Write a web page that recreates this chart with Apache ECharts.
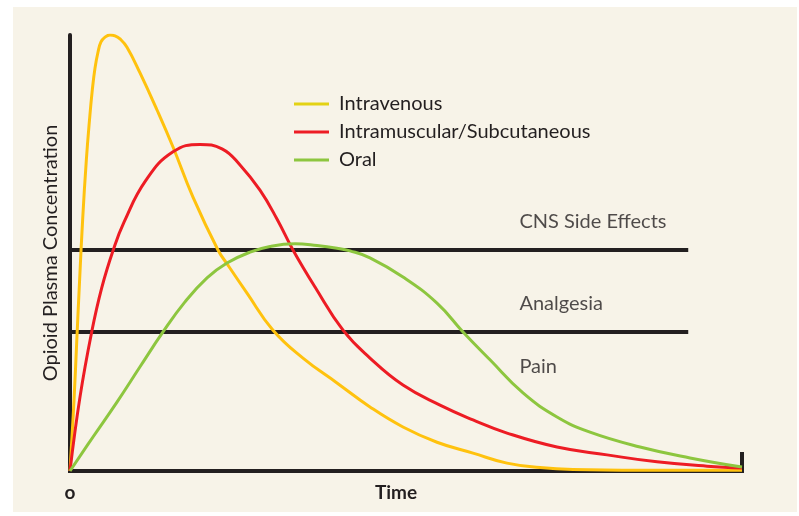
<!DOCTYPE html>
<html>
<head>
<meta charset="utf-8">
<script src="https://cdn.jsdelivr.net/npm/echarts@6/dist/echarts.min.js"></script>
<style>
  html, body { margin: 0; padding: 0; background: #ffffff; }
  #main { width: 799px; height: 516px; }
</style>
</head>
<body>
<div id="main"></div>
<script>
// time axis runs 0..100, concentration 0..100
var ivTime = [0, 0.6, 1.01, 1.43, 1.88, 2.43, 2.9, 3.32, 3.72, 4.17, 4.61, 5.21, 5.95, 6.7, 7.44, 8.48, 10.42, 12.95, 15.33, 18.3, 22.02, 23.51, 26.34, 30.21, 34.67, 39.73, 44.64, 49.55, 54.61, 59.97, 65.03, 69.94, 74.85, 84.82, 100];
var ivConc = [0, 16.3, 30.0, 43.8, 57.6, 71.3, 80.5, 87.4, 92.4, 96.1, 98.4, 99.5, 100, 99.8, 99.1, 97.2, 91.3, 82.8, 74.3, 62.8, 50.7, 47.2, 40.8, 32.3, 25.9, 20.2, 14.7, 10.1, 6.6, 4.1, 1.8, 0.8, 0.35, 0.18, 0.18];

var imTime = [0, 1.49, 3.23, 4.72, 6.44, 8.04, 11.31, 15.33, 19.35, 22.62, 25.3, 28.27, 30.8, 33.18, 36.46, 40.63, 44.64, 49.55, 55.06, 59.97, 65.03, 72.47, 79.91, 87.35, 94.79, 100];
var imConc = [0, 17.0, 31.9, 42.0, 50.7, 57.1, 66.7, 73.2, 74.9, 73.9, 70.2, 64.4, 57.8, 50.7, 42.2, 32.3, 25.9, 19.7, 15.1, 11.7, 8.7, 5.5, 3.7, 2.1, 1.1, 0.7];

var oralTime = [0, 3.42, 6.99, 10.42, 13.84, 17.11, 20.39, 23.36, 26.79, 29.76, 33.48, 36.76, 39.73, 41.67, 44.64, 49.55, 54.61, 58.48, 62.5, 67.41, 72.47, 77.38, 84.82, 92.26, 100];
var oralConc = [0, 7.8, 15.8, 23.9, 31.9, 38.8, 44.3, 47.7, 50.2, 51.5, 52.1, 51.7, 51.1, 50.5, 48.9, 44.5, 38.5, 31.9, 25.5, 17.9, 12.4, 8.9, 5.5, 3.0, 0.9];

// threshold lines and their labels
var thresholdNames = ['CNS Side Effects', 'Analgesia'];
var thresholdLevels = [50.7, 31.9];
var thresholdEnd = 92;
var zoneLabels = ['CNS Side Effects', 'Analgesia', 'Pain'];
var zoneLabelLevels = [57.3, 38.5, 23.9];
var zoneLabelTime = 66.8;

var seriesNames = ['Intravenous', 'Intramuscular/Subcutaneous', 'Oral'];
var seriesColors = ['#ffc20e', '#ed1c24', '#8dc63f'];

var ink = '#231f20';
var font = 'Lato, "Open Sans", sans-serif';

function pairs(xs, ys) {
  return xs.map(function (x, i) { return [x, ys[i]]; });
}

var curves = [pairs(ivTime, ivConc), pairs(imTime, imConc), pairs(oralTime, oralConc)];

var series = [];
// horizontal threshold lines, drawn under the curves
thresholdLevels.forEach(function (lvl, i) {
  series.push({
    name: thresholdNames[i],
    type: 'line',
    data: [[0, lvl], [thresholdEnd, lvl]],
    symbol: 'none',
    silent: true,
    lineStyle: { color: ink, width: 4 },
    z: 1
  });
});
curves.forEach(function (d, i) {
  series.push({
    name: seriesNames[i],
    type: 'line',
    data: d,
    smooth: 0.45,
    symbol: 'none',
    color: seriesColors[i],
    lineStyle: { width: 3, color: seriesColors[i] },
    z: 3
  });
});
series.push({
  name: 'zones',
  type: 'scatter',
  symbolSize: 1,
  itemStyle: { color: 'rgba(0,0,0,0)' },
  silent: true,
  data: zoneLabels.map(function (t, i) { return [zoneLabelTime, zoneLabelLevels[i], t]; }),
  label: {
    show: true,
    position: 'right',
    distance: 0,
    formatter: function (p) { return p.data[2]; },
    fontSize: 20,
    fontFamily: font,
    color: ink
  }
});

var myChart = echarts.init(document.getElementById('main'));
myChart.setOption({
  animation: false,
  graphic: {
    elements: [{
      type: 'rect', z: -100, silent: true,
      shape: { x: 13, y: 7, width: 784, height: 505 },
      style: { fill: '#f7f3e8' }
    }]
  },
  legend: {
    orient: 'vertical',
    left: 294,
    top: 93,
    padding: 0,
    itemWidth: 35,
    itemHeight: 3,
    itemGap: 6,
    icon: 'rect',
    textStyle: { fontSize: 20, fontFamily: font, color: ink, lineHeight: 22, padding: [0, 0, 0, 5] },
    data: [
      { name: seriesNames[0], itemStyle: { color: '#e3d214' } },
      { name: seriesNames[1] },
      { name: seriesNames[2] }
    ]
  },
  grid: { left: 70, right: 57, top: 35, bottom: 45, outerBoundsMode: 'none' },
  xAxis: {
    type: 'value',
    min: 0,
    max: 100,
    interval: 100,
    name: 'Time',
    nameLocation: 'middle',
    nameGap: 12,
    nameMoveOverlap: false,
    nameTextStyle: { fontSize: 19, fontWeight: 'bold', fontFamily: font, color: ink, verticalAlign: 'top', padding: [0, 20, 0, 0] },
    axisLine: { lineStyle: { color: ink, width: 4, cap: 'square' } },
    axisTick: { show: true, inside: true, length: 19, lineStyle: { color: ink, width: 4 } },
    axisLabel: {
      margin: 12,
      fontSize: 19,
      fontWeight: 'bold',
      fontFamily: font,
      color: ink,
      formatter: function (v) { return v === 0 ? 'o' : ''; }
    },
    splitLine: { show: false }
  },
  yAxis: {
    type: 'value',
    min: 0,
    max: 100,
    name: 'Opioid Plasma Concentration',
    nameLocation: 'middle',
    nameGap: 9,
    nameMoveOverlap: false,
    nameTextStyle: { fontSize: 20, fontFamily: font, color: ink },
    axisLine: { show: true, lineStyle: { color: ink, width: 4 } },
    axisTick: { show: false },
    axisLabel: { show: false },
    splitLine: { show: false }
  },
  series: series
});
</script>
</body>
</html>
